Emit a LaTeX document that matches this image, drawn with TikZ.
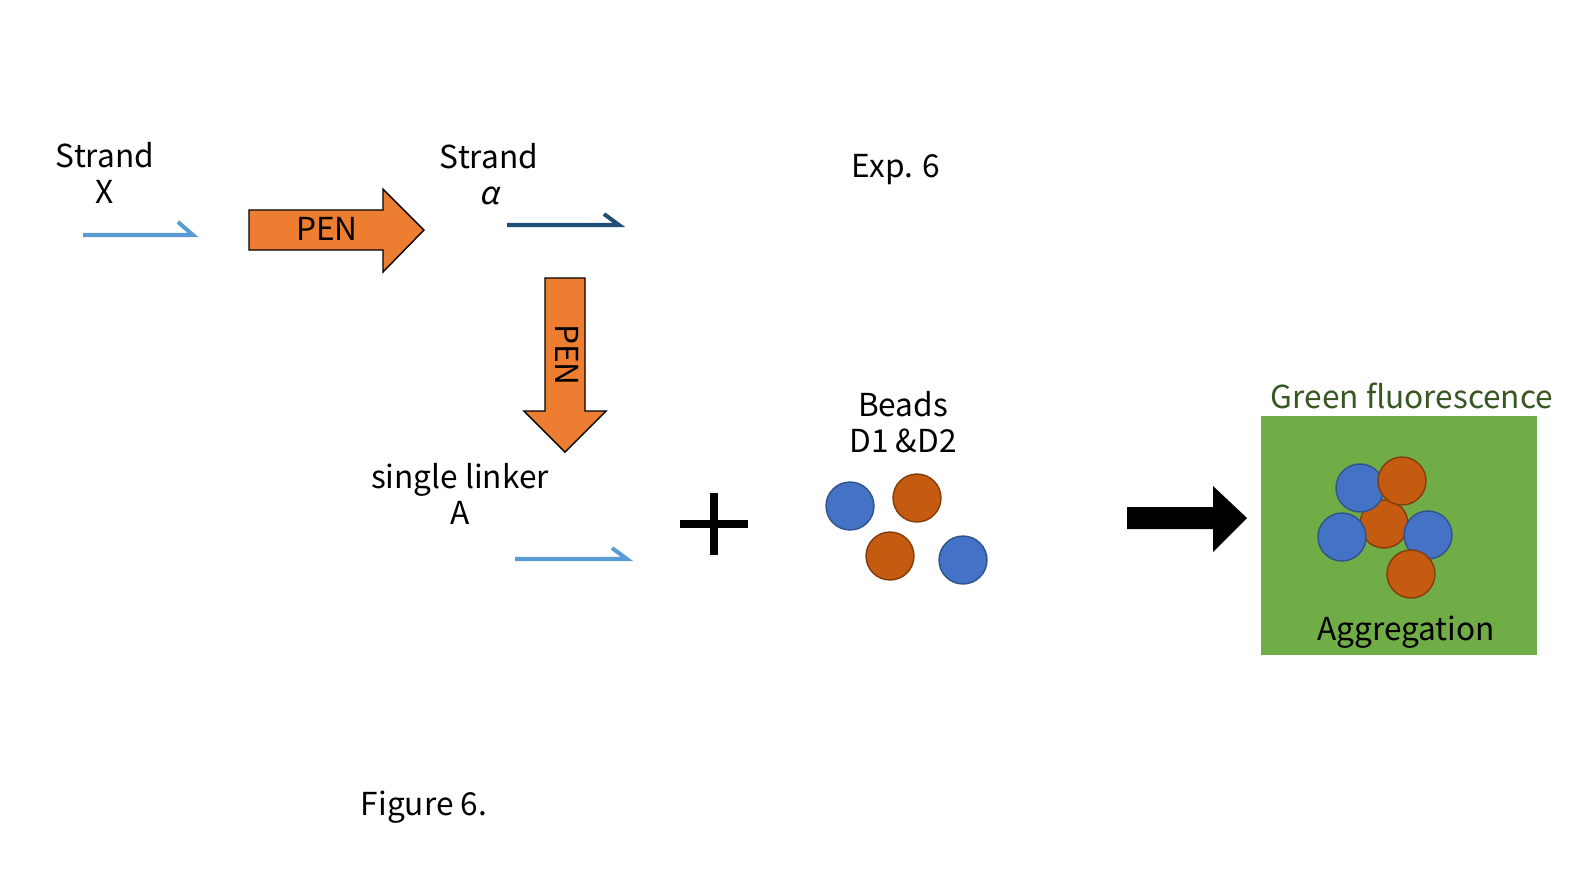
\documentclass[tikz,border=0pt]{standalone}
\usepackage{fontspec}
\setmainfont{Noto Sans CJK JP}
\newfontfamily\slantfont[FakeSlant=0.2]{Noto Sans CJK JP}
\usetikzlibrary{positioning}
\definecolor{penorange}{RGB}{237,125,49}
\definecolor{strandlight}{RGB}{91,155,213}
\definecolor{stranddark}{RGB}{31,78,121}
\definecolor{beadblue}{RGB}{68,114,196}
\definecolor{beadblueline}{RGB}{47,82,143}
\definecolor{beadorange}{RGB}{197,90,17}
\definecolor{beadorangeline}{RGB}{132,60,12}
\definecolor{boxgreen}{RGB}{112,173,71}
\definecolor{textgreen}{RGB}{56,87,35}
\tikzset{
  lbl/.style={align=center,inner sep=0pt,font=\fontsize{18}{20.5}\selectfont},
  strand/.style={line width=2.3pt},
  pen/.style={draw=black,line width=0.8pt,fill=penorange},
  bead/.style={circle,line width=0.8pt,minimum size=0.96cm,inner sep=0pt},
  bluebead/.style={bead,draw=beadblueline,fill=beadblue},
  orangebead/.style={bead,draw=beadorangeline,fill=beadorange}
}

\begin{document}
\begin{tikzpicture}[x=0.02cm,y=-0.02cm]
\useasboundingbox (0,0) rectangle (1590,894);
% strands
\node[lbl] (strandX) at (105,173) {Strand\\X};
\coordinate (xs) at (83,235);
\coordinate (xe) at (193,235);
\draw[strand,strandlight] (xs) -- (xe) -- ++(-15,-13);
\node[lbl] (strandA) at (489,174) {Strand\\{\slantfont α}};
\coordinate (as) at (507,225);
\coordinate (ae) at (619,225);
\draw[strand,stranddark] (as) -- (ae) -- ++(-15,-11);
\node[lbl] (exp) at (896,170) {Exp. 6};
% PEN steps
\draw[pen] (249,210) -- (383,210) -- (383,189) -- (424,230) -- (383,272) -- (383,250) -- (249,250) -- cycle;
\node[lbl] (pen1) at (327,229) {PEN};
\draw[pen] (545,278) -- (585,278) -- (585,411) -- (606,411) -- (565,452) -- (524,411) -- (545,411) -- cycle;
\node[lbl,rotate=-90] (pen2) at (567,355) {PEN};
\node[lbl] (linker) at (460,494) {single linker\\A};
\coordinate (ls) at (515,559);
\coordinate (le) at (627,559);
\draw[strand,strandlight] (ls) -- (le) -- ++(-15,-11);
% plus
\draw[line width=5.1pt] (680,524) -- (748,524) (714,493) -- (714,555);
% beads
\node[lbl] (beads) at (903,422) {Beads\\D1 \&D2};
\node[bluebead] (b1) at (850,506) {};
\node[orangebead] (o1) at (917,498) {};
\node[orangebead] (o2) at (890,556) {};
\node[bluebead] (b2) at (963,560) {};
% result
\fill (1127,507) -- (1213,507) -- (1213,486) -- (1247,518) -- (1213,552) -- (1213,529) -- (1127,529) -- cycle;
\node[fill=boxgreen,minimum width=5.52cm,minimum height=4.78cm,inner sep=0pt] (box) at (1399,535.5) {};
\node[lbl,textgreen] (green) at (1412,396) {Green fluorescence};
\node[orangebead] (ag1) at (1384,524) {};
\node[bluebead] (ag2) at (1360,488) {};
\node[orangebead] (ag3) at (1402,481) {};
\node[bluebead] (ag4) at (1342,537) {};
\node[bluebead] (ag5) at (1428,535) {};
\node[orangebead] (ag6) at (1411,574) {};
\node[lbl] (aggr) at (1406,632) {Aggregation};
\node[lbl] (fig) at (424,807) {Figure 6.};
\end{tikzpicture}
\end{document}
